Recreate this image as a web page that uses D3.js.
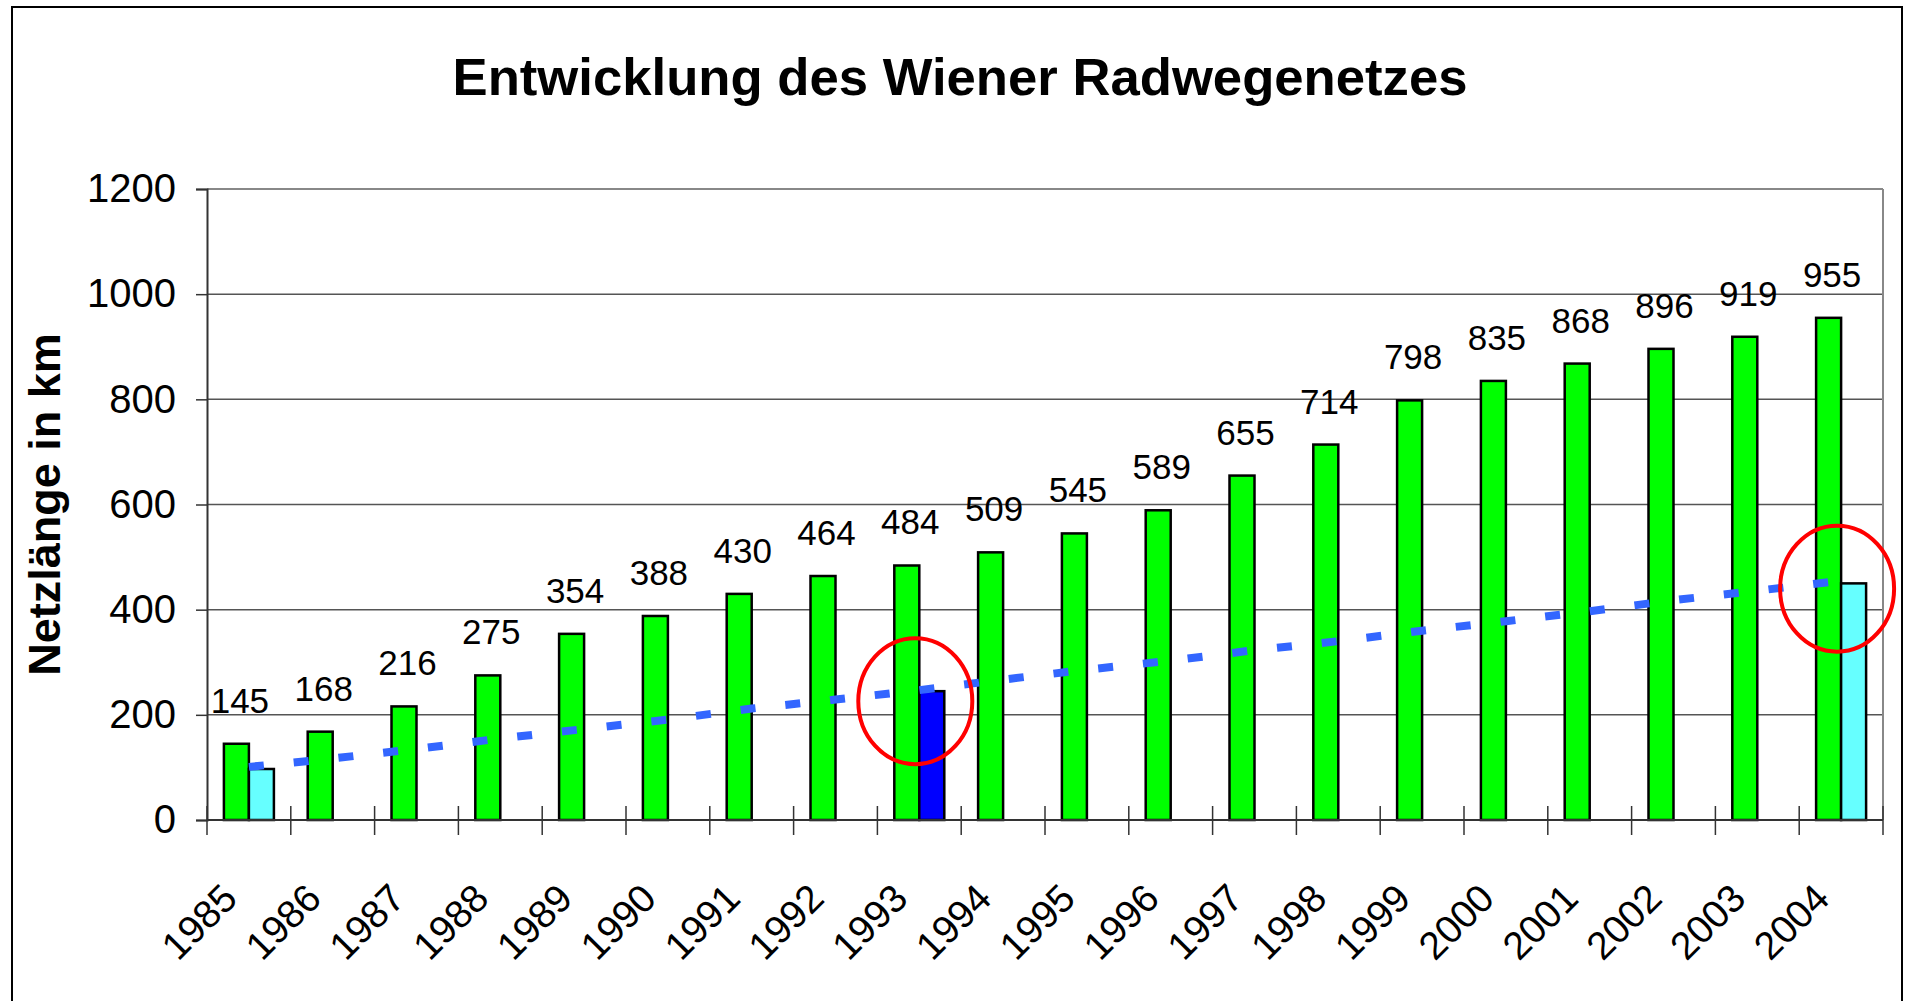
<!DOCTYPE html>
<html>
<head>
<meta charset="utf-8">
<script src="https://cdn.jsdelivr.net/npm/d3@7"></script>
<style>
  html, body { margin: 0; padding: 0; background: #fff; }
  svg text { font-family: "Liberation Sans", Arial, sans-serif; fill: #000; }
</style>
</head>
<body>
<svg id="chart"></svg>
<script>
// Daten
const jahre = ["1985","1986","1987","1988","1989","1990","1991","1992","1993","1994",
               "1995","1996","1997","1998","1999","2000","2001","2002","2003","2004"];
const netzlaenge = [145,168,216,275,354,388,430,464,484,509,545,589,655,714,798,835,868,896,919,955];
// zweite Reihe, nur 1985, 1993 und 2004 vorhanden
const zweiteReihe = [97,null,null,null,null,null,null,null,245,null,
                     null,null,null,null,null,null,null,null,null,450];
const zweiteFarbe = ["#66ffff","#66ffff","#66ffff","#66ffff","#66ffff","#66ffff","#66ffff","#66ffff","#0000ff","#66ffff",
                     "#66ffff","#66ffff","#66ffff","#66ffff","#66ffff","#66ffff","#66ffff","#66ffff","#66ffff","#66ffff"];
const linie = [101,117,135,155,173,191,212,229,247,267,286,303,323,340,360,378,397,418,436,455];
const yTicks = [0,200,400,600,800,1000,1200];
const markiert = [["1993", 226], ["2004", 440]];

const width = 1906, height = 1001;
const margin = {top: 189, right: 23, bottom: 181, left: 207};

const svg = d3.select("#chart")
    .attr("width", width)
    .attr("height", height);

// Rahmen
svg.append("rect")
    .attr("x", 12).attr("y", 7)
    .attr("width", 1890).attr("height", 1010)
    .attr("fill", "#fff")
    .attr("stroke", "#000")
    .attr("stroke-width", 2);

const x = d3.scaleBand()
    .domain(jahre)
    .range([margin.left, width - margin.right]);

const x1 = d3.scaleBand()
    .domain(["a", "b"])
    .range([0, 50]);

const y = d3.scaleLinear()
    .domain([0, 1200])
    .range([height - margin.bottom, margin.top]);

const cx = d => x(d) + x.bandwidth() / 2;

// Gitterlinien
svg.append("g")
    .selectAll("line")
    .data(yTicks.slice(1))
    .enter().append("line")
    .attr("x1", margin.left)
    .attr("x2", width - margin.right)
    .attr("y1", d => y(d))
    .attr("y2", d => y(d))
    .attr("stroke", d => d === 1200 ? "#888" : "#555")
    .attr("stroke-width", d => d === 1200 ? 2 : 1.5);

// rechter Rand Zeichenfläche
svg.append("line")
    .attr("x1", width - margin.right).attr("x2", width - margin.right)
    .attr("y1", y(1200)).attr("y2", y(0))
    .attr("stroke", "#888").attr("stroke-width", 2);

// y-Achse
const yAxis = svg.append("g")
    .attr("transform", "translate(" + margin.left + ",0)")
    .call(d3.axisLeft(y).tickValues(yTicks).tickFormat(d3.format("d")).tickSize(11).tickPadding(20));
yAxis.select(".domain").attr("stroke", "#333").attr("stroke-width", 2);
yAxis.selectAll(".tick line").attr("stroke", "#333").attr("stroke-width", 1.5);
yAxis.selectAll(".tick text")
    .attr("font-size", 40)
    .attr("font-family", "Liberation Sans, Arial, sans-serif");

// x-Achse: Striche an den Kategoriegrenzen
const grenzen = jahre.map(d => x(d)).concat([width - margin.right]);
svg.append("g")
    .selectAll("line")
    .data(grenzen)
    .enter().append("line")
    .attr("x1", d => d).attr("x2", d => d)
    .attr("y1", y(0) - 14).attr("y2", y(0) + 15)
    .attr("stroke", "#333").attr("stroke-width", 1.5);

// Balken grün
svg.append("g")
    .selectAll("rect")
    .data(netzlaenge)
    .enter().append("rect")
    .attr("x", (d, i) => cx(jahre[i]) - 25 + x1("a"))
    .attr("y", d => y(d))
    .attr("width", x1.bandwidth())
    .attr("height", d => y(0) - y(d))
    .attr("fill", "#00ff00")
    .attr("stroke", "#000")
    .attr("stroke-width", 2.5);

// zweite Reihe
const zweite = zweiteReihe.map((v, i) => ({jahr: jahre[i], v: v, farbe: zweiteFarbe[i]}))
    .filter(d => d.v !== null);
svg.append("g")
    .selectAll("rect")
    .data(zweite)
    .enter().append("rect")
    .attr("x", d => cx(d.jahr) - 25 + x1("b"))
    .attr("y", d => y(d.v))
    .attr("width", x1.bandwidth())
    .attr("height", d => y(0) - y(d.v))
    .attr("fill", d => d.farbe)
    .attr("stroke", "#000")
    .attr("stroke-width", 2.5);

// x-Achsenlinie
svg.append("line")
    .attr("x1", margin.left).attr("x2", width - margin.right)
    .attr("y1", y(0)).attr("y2", y(0))
    .attr("stroke", "#333").attr("stroke-width", 2);

// Werte über den Balken
svg.append("g")
    .selectAll("text")
    .data(netzlaenge)
    .enter().append("text")
    .attr("x", (d, i) => cx(jahre[i]) - 9)
    .attr("y", d => y(d) - 31)
    .attr("text-anchor", "middle")
    .attr("font-size", 35)
    .text(d => d);

// gestrichelte Linie
const line = d3.line()
    .x((d, i) => cx(jahre[i]))
    .y(d => y(d));
svg.append("path")
    .datum(linie)
    .attr("d", line)
    .attr("fill", "none")
    .attr("stroke", "#3366ff")
    .attr("stroke-width", 8)
    .attr("stroke-dasharray", "15,30");

// Jahreszahlen
svg.append("g")
    .selectAll("text")
    .data(jahre)
    .enter().append("text")
    .attr("transform", d => "translate(" + (cx(d) - 19) + "," + 891 + ") rotate(-45)")
    .attr("text-anchor", "end")
    .attr("dominant-baseline", "central")
    .attr("font-size", 39)
    .text(d => d);

// rote Kreise
svg.append("g")
    .selectAll("ellipse")
    .data(markiert)
    .enter().append("ellipse")
    .attr("cx", d => cx(d[0]) - 4)
    .attr("cy", d => y(d[1]))
    .attr("rx", 57)
    .attr("ry", 63)
    .attr("fill", "none")
    .attr("stroke", "#ff0000")
    .attr("stroke-width", 4);

// Titel
svg.append("text")
    .attr("x", 960)
    .attr("y", 95)
    .attr("text-anchor", "middle")
    .attr("font-size", 52)
    .attr("font-weight", "bold")
    .attr("textLength", 1015)
    .attr("lengthAdjust", "spacingAndGlyphs")
    .text("Entwicklung des Wiener Radwegenetzes");

svg.append("text")
    .attr("transform", "translate(60," + (y(0) + y(1200)) / 2 + ") rotate(-90)")
    .attr("text-anchor", "middle")
    .attr("font-size", 45)
    .attr("font-weight", "bold")
    .text("Netzlänge in km");
</script>
</body>
</html>
